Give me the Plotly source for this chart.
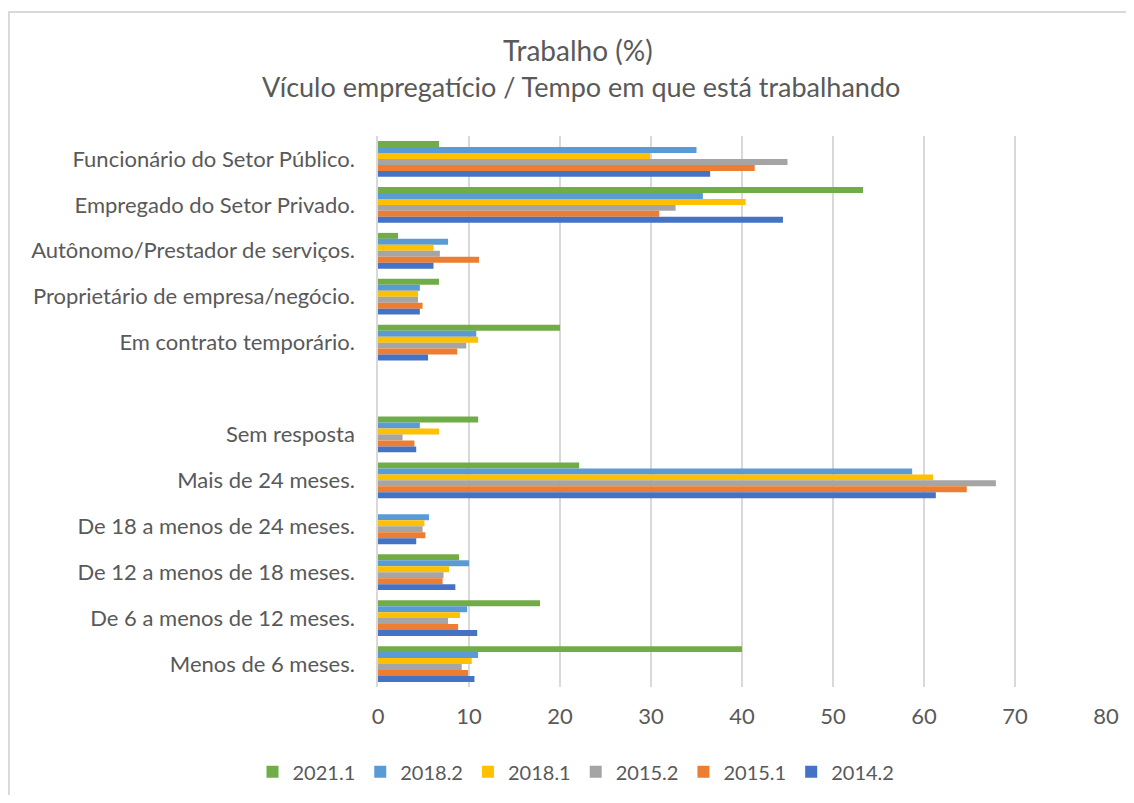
import plotly.graph_objects as go

categories = [
    "Funcionário do Setor Público.",
    "Empregado do Setor Privado.",
    "Autônomo/Prestador de serviços.",
    "Proprietário de empresa/negócio.",
    "Em contrato temporário.",
    " ",
    "Sem resposta",
    "Mais de 24 meses.",
    "De 18 a menos de 24 meses.",
    "De 12 a menos de 18 meses.",
    "De 6 a menos de 12 meses.",
    "Menos de 6 meses.",
]

s2021_1 = [6.7, 53.3, 2.2, 6.7, 20.0, None, 11.0, 22.1, 0.0, 8.9, 17.8, 40.0]
s2018_2 = [35.0, 35.7, 7.7, 4.6, 10.8, None, 4.6, 58.7, 5.6, 10.0, 9.8, 11.0]
s2018_1 = [29.9, 40.4, 6.1, 4.4, 11.0, None, 6.7, 61.0, 5.1, 7.8, 9.0, 10.3]
s2015_2 = [45.0, 32.7, 6.8, 4.4, 9.7, None, 2.7, 67.9, 4.9, 7.2, 7.7, 9.2]
s2015_1 = [41.4, 30.9, 11.1, 4.9, 8.7, None, 4.0, 64.7, 5.2, 7.1, 8.8, 9.9]
s2014_2 = [36.5, 44.5, 6.1, 4.6, 5.5, None, 4.2, 61.3, 4.2, 8.5, 10.9, 10.6]

series = [
    ("2021.1", s2021_1, "#70AD47"),
    ("2018.2", s2018_2, "#5B9BD5"),
    ("2018.1", s2018_1, "#FFC000"),
    ("2015.2", s2015_2, "#A5A5A5"),
    ("2015.1", s2015_1, "#ED7D31"),
    ("2014.2", s2014_2, "#4472C4"),
]

font = "Lato, 'Open Sans', sans-serif"
grey = "#595959"

fig = go.Figure()
for name, vals, col in series:
    fig.add_trace(go.Bar(
        y=categories,
        x=vals,
        name=name,
        orientation="h",
        marker=dict(color=col, line=dict(width=0)),
    ))

# page body adds ~8px margin, so the figure is a bit smaller than the window
fig.update_layout(
    width=1118,
    height=787,
    barmode="group",
    bargap=0.22,
    bargroupgap=0,
    paper_bgcolor="white",
    plot_bgcolor="white",
    margin=dict(l=370, r=20, t=128, b=108, autoexpand=False),
    font=dict(family=font, color=grey, size=22),
    xaxis=dict(
        range=[0, 80],
        dtick=10,
        showgrid=True,
        gridcolor="#d9d9d9",
        gridwidth=1.5,
        zeroline=False,
        showline=False,
        tickfont=dict(size=22, color=grey),
        ticks="",
        ticklabelstandoff=14,
    ),
    yaxis=dict(
        type="category",
        categoryorder="array",
        categoryarray=categories,
        autorange="reversed",
        showline=True,
        linecolor="#d9d9d9",
        linewidth=1.5,
        ticks="",
        ticksuffix="   ",
        tickfont=dict(size=22, color=grey),
    ),
    legend=dict(
        orientation="h",
        x=0.272,
        xanchor="center",
        y=-0.154,
        yanchor="middle",
        font=dict(size=20, color=grey),
    ),
)

fig.add_annotation(
    text="Trabalho (%)", xref="paper", yref="paper",
    x=(578 - 8 - 370) / 728, y=1.156, xanchor="center", yanchor="middle",
    showarrow=False, font=dict(size=28, color=grey),
)
fig.add_annotation(
    text="Vículo empregatício / Tempo em que está trabalhando",
    xref="paper", yref="paper",
    x=(581 - 8 - 370) / 728, y=1.089, xanchor="center", yanchor="middle",
    showarrow=False, font=dict(size=27, color=grey),
)

# outer chart border
fig.add_shape(
    type="rect",
    xref="paper", yref="paper",
    x0=-0.507, x1=1.2, y0=-0.4, y1=1.225,
    line=dict(color="#d9d9d9", width=2),
    layer="below",
)

fig.write_html("out.html")
